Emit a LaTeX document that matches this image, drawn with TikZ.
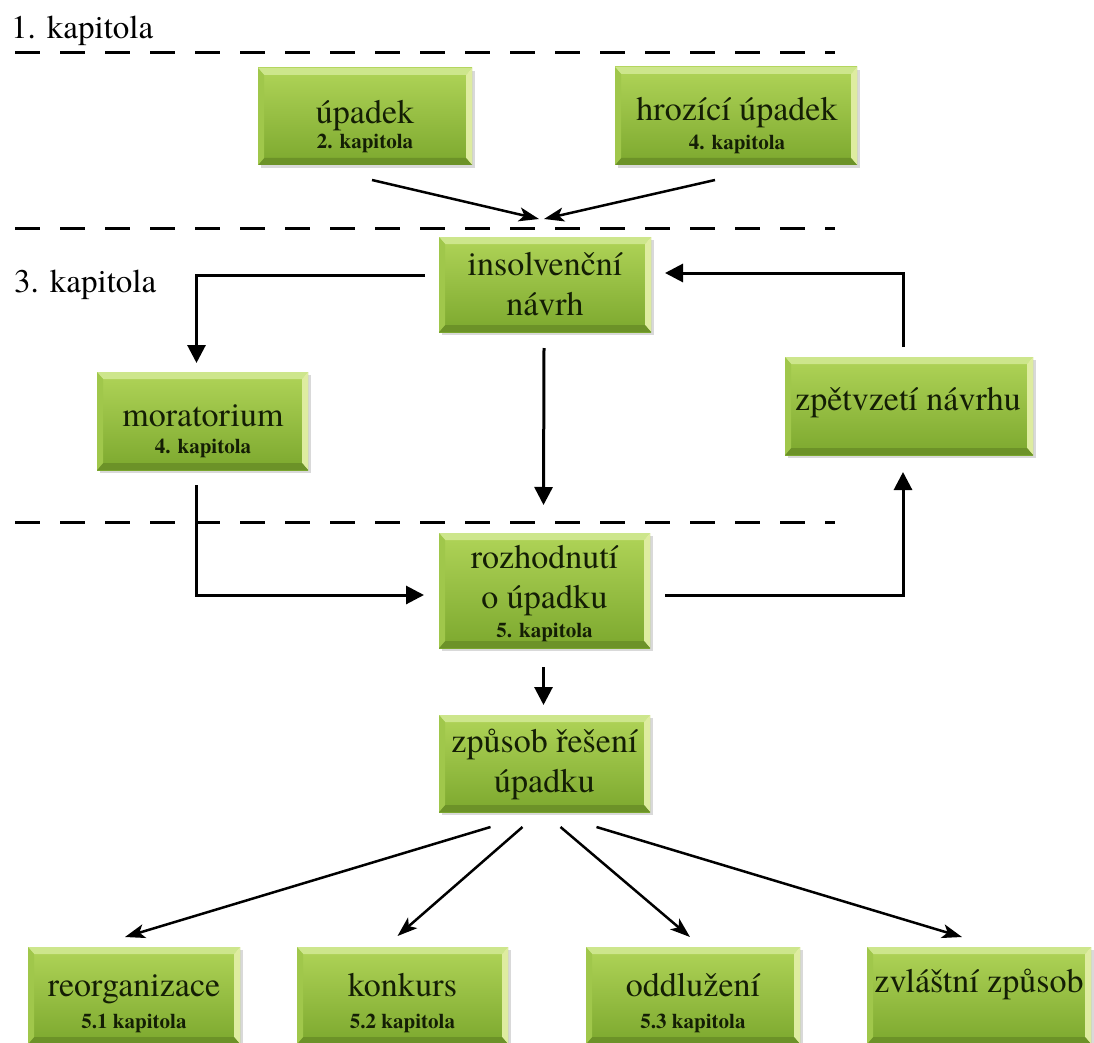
\documentclass[tikz,border=0pt]{standalone}
\usepackage{fontspec}
\setmainfont{texgyretermes-regular.otf}[BoldFont=texgyretermes-bold.otf]
\usetikzlibrary{arrows.meta,shadows,calc}
\definecolor{gTop}{RGB}{176,212,88}
\definecolor{gBot}{RGB}{124,168,46}
\definecolor{gLight}{RGB}{205,230,140}
\definecolor{gPale}{RGB}{222,236,160}
\definecolor{gDark}{RGB}{108,146,40}
\definecolor{txtc}{RGB}{20,30,5}
\tikzset{
  box/.style={rectangle, inner sep=0pt, outer sep=0pt, draw=none,
    top color=gTop, bottom color=gBot,
    drop shadow={shadow xshift=3pt, shadow yshift=-3pt, fill=black, opacity=0.15},
    path picture={
      \fill[gLight] (path picture bounding box.north west) -- (path picture bounding box.north east)
        -- ([xshift=-6pt,yshift=-7pt]path picture bounding box.north east)
        -- ([xshift=6pt,yshift=-7pt]path picture bounding box.north west) -- cycle;
      \fill[gPale] (path picture bounding box.north east) -- (path picture bounding box.south east)
        -- ([xshift=-6pt,yshift=7pt]path picture bounding box.south east)
        -- ([xshift=-6pt,yshift=-7pt]path picture bounding box.north east) -- cycle;
      \fill[gDark] (path picture bounding box.south west) -- (path picture bounding box.south east)
        -- ([xshift=-6pt,yshift=7pt]path picture bounding box.south east)
        -- ([xshift=6pt,yshift=7pt]path picture bounding box.south west) -- cycle;
      \fill[gTop!70!gBot] (path picture bounding box.north west) -- (path picture bounding box.south west)
        -- ([xshift=6pt,yshift=7pt]path picture bounding box.south west)
        -- ([xshift=6pt,yshift=-7pt]path picture bounding box.north west) -- cycle;
    }},
  main/.style={inner sep=0pt, anchor=base, text=txtc, font=\fontsize{34}{40}\selectfont},
  sub/.style={inner sep=0pt, anchor=base, text=txtc, font=\fontsize{21}{25}\selectfont\bfseries},
  lab/.style={inner sep=0pt, anchor=base west, text=black, font=\fontsize{33}{38}\selectfont},
  sep/.style={line width=3pt, dash pattern=on 25pt off 20pt},
  arr/.style={line width=3pt, -{Triangle[length=18pt,width=18pt]}},
  darr/.style={line width=2.5pt, -{Stealth[length=20pt,width=14pt,inset=5pt]}},
}
\begin{document}
\begin{tikzpicture}[x=1pt,y=-1pt]
\useasboundingbox (0,0) rectangle (1094,1043);
\fill[white] (0,0) rectangle (1094,1043);

% separators
\coordinate (s1a) at (15,53);  \coordinate (s1b) at (835,53);
\coordinate (s2a) at (15,228); \coordinate (s2b) at (835,228);
\coordinate (s3a) at (15,522); \coordinate (s3b) at (835,522);
\draw[sep] (s1a) -- (s1b);
\draw[sep] (s2a) -- (s2b);
\draw[sep] (s3a) -- (s3b);

% labels
\node[lab] (l1) at (11,39) {1. kapitola};
\node[lab] (l3) at (14,292) {3. kapitola};

% boxes
\node[box, minimum width=214, minimum height=97] (up) at (365,116.5) {};
\node[box, minimum width=242, minimum height=98] (hr) at (736,116) {};
\node[box, minimum width=212, minimum height=95] (ins) at (545,284.5) {};
\node[box, minimum width=211, minimum height=98] (mor) at (202.5,421) {};
\node[box, minimum width=248, minimum height=98] (zp) at (909,406) {};
\node[box, minimum width=211, minimum height=115] (rz) at (544.5,590.5) {};
\node[box, minimum width=211, minimum height=97] (zs) at (544.5,763.5) {};
\node[box, minimum width=212, minimum height=97] (reo) at (134,995.5) {};
\node[box, minimum width=211, minimum height=97] (kon) at (402.5,995.5) {};
\node[box, minimum width=214, minimum height=97] (odd) at (693,995.5) {};
\node[box, minimum width=224, minimum height=97] (zv) at (979,995.5) {};

% texts
\node[main] (up-t) at (365,124) {úpadek};
\node[sub] (up-s) at (365,149) {2. kapitola};
\node[main] (hr-t) at (737,121) {hrozící úpadek};
\node[sub] (hr-s) at (737,150) {4. kapitola};
\node[main] (ins-t1) at (545,275) {insolvenční};
\node[main] (ins-t2) at (545,315) {návrh};
\node[main] (mor-t) at (203,426) {moratorium};
\node[sub] (mor-s) at (203,453) {4. kapitola};
\node[main] (zp-t) at (908,410) {zpětvzetí návrhu};
\node[main] (rz-t1) at (544.5,568) {rozhodnutí};
\node[main] (rz-t2) at (544.5,608) {o úpadku};
\node[sub] (rz-s) at (544.5,637) {5. kapitola};
\node[main] (zs-t1) at (544.5,752) {způsob řešení};
\node[main] (zs-t2) at (544.5,792) {úpadku};
\node[main] (reo-t) at (134,996) {reorganizace};
\node[sub] (reo-s) at (134,1028) {5.1 kapitola};
\node[main] (kon-t) at (402.5,996) {konkurs};
\node[sub] (kon-s) at (402.5,1028) {5.2 kapitola};
\node[main] (odd-t) at (693,996) {oddlužení};
\node[sub] (odd-s) at (693,1028) {5.3 kapitola};
\node[main] (zv-t) at (979,992) {zvláštní způsob};

% connectors
\coordinate (meetL) at (539,219);
\coordinate (meetR) at (544,219);
\draw[darr] ([xshift=7pt,yshift=-15pt]up.south) -- (meetL);
\draw[darr] ([xshift=-21pt,yshift=-15pt]hr.south) -- (meetR);

\draw[arr] ([xshift=-14pt,yshift=9.5pt]ins.west) -| ([xshift=-6pt,yshift=9pt]mor.north);
\draw[arr] ([xshift=-1pt,yshift=-16pt]ins.south) -- ([xshift=-1pt,yshift=28pt]rz.north);
\draw[arr] ([xshift=-6pt,yshift=-15pt]mor.south) |- ([xshift=-15pt,yshift=-4.5pt]rz.west);
\draw[arr] ([xshift=15pt,yshift=-4.5pt]rz.east) -| ([xshift=-6pt,yshift=-17pt]zp.south);
\draw[arr] ([xshift=-6pt,yshift=10pt]zp.north) |- ([xshift=14pt,yshift=11.5pt]ins.east);
\draw[arr] ([xshift=-1pt,yshift=-19pt]rz.south) -- ([xshift=-1pt,yshift=10pt]zs.north);

\draw[darr] ([xshift=-54pt,yshift=-15pt]zs.south) -- ([xshift=-9pt,yshift=10pt]reo.north);
\draw[darr] ([xshift=-22pt,yshift=-15pt]zs.south) -- ([xshift=-5pt,yshift=11pt]kon.north);
\draw[darr] ([xshift=16pt,yshift=-15pt]zs.south) -- ([xshift=-3pt,yshift=10pt]odd.north);
\draw[darr] ([xshift=52pt,yshift=-15pt]zs.south) -- ([xshift=-17pt,yshift=10pt]zv.north);
\end{tikzpicture}
\end{document}
